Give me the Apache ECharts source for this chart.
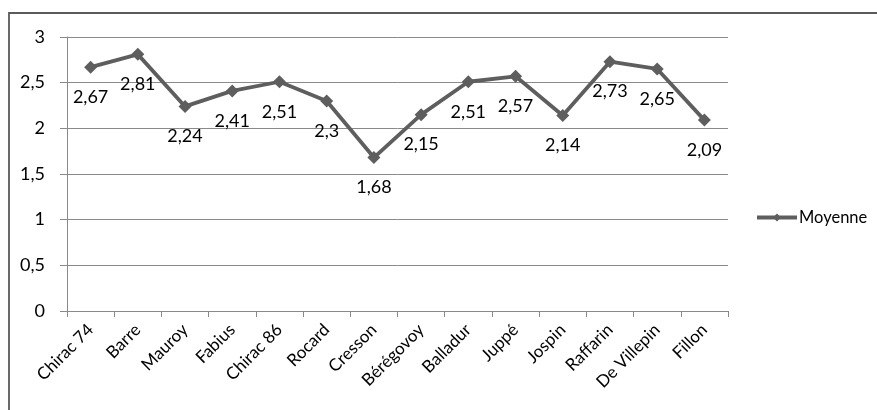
<!DOCTYPE html>
<html>
<head>
<meta charset="utf-8">
<script src="https://cdn.jsdelivr.net/npm/echarts@6/dist/echarts.min.js"></script>
<style>
  html, body { margin: 0; padding: 0; background: #fff; }
  #main { width: 877px; height: 410px; }
</style>
</head>
<body>
<div id="main"></div>
<script>
var categories = ['Chirac 74', 'Barre', 'Mauroy', 'Fabius', 'Chirac 86', 'Rocard', 'Cresson',
  'Bérégovoy', 'Balladur', 'Juppé', 'Jospin', 'Raffarin', 'De Villepin', 'Fillon'];
var moyenne = [2.67, 2.81, 2.24, 2.41, 2.51, 2.3, 1.68, 2.15, 2.51, 2.57, 2.14, 2.73, 2.65, 2.09];
var yTicks = [0, 0.5, 1, 1.5, 2, 2.5, 3];

var font = 'Lato';
var grey = '#5e5e5e';
function comma(v) { return String(v).replace('.', ','); }

var myChart = echarts.init(document.getElementById('main'));
myChart.setOption({
  animation: false,
  textStyle: { fontFamily: font },
  graphic: [{
    type: 'rect',
    shape: { x: 9, y: 13, width: 900, height: 420 },
    style: { fill: 'none', stroke: '#5a5a5a', lineWidth: 1.8 }
  }],
  grid: { left: 67, right: 149, top: 37, bottom: 99 },
  legend: {
    left: 750, top: 204,
    itemWidth: 40, itemHeight: 10, itemGap: 2,
    lineStyle: { width: 4 },
    textStyle: { fontFamily: font, fontSize: 16.5, color: '#000', padding: [0, 0, 0, -3] },
    data: ['Moyenne']
  },
  xAxis: {
    type: 'category',
    data: categories,
    axisLine: { lineStyle: { color: '#8a8a8a', width: 1 } },
    axisTick: { show: true, length: 6, lineStyle: { color: '#8a8a8a' } },
    axisLabel: { rotate: 45, margin: 16, fontSize: 17, color: '#000', interval: 0, fontFamily: font }
  },
  yAxis: {
    type: 'value',
    min: yTicks[0],
    max: yTicks[yTicks.length - 1],
    interval: 0.5,
    axisLine: { show: true, lineStyle: { color: '#8a8a8a', width: 1 } },
    axisTick: { show: true, length: 7, lineStyle: { color: '#8a8a8a' } },
    splitLine: { lineStyle: { color: '#8a8a8a', width: 1 } },
    axisLabel: { margin: 22, fontSize: 18, color: '#000', fontFamily: font, formatter: comma }
  },
  series: [{
    name: 'Moyenne',
    type: 'line',
    data: moyenne,
    symbol: 'diamond',
    symbolSize: 13,
    lineStyle: { color: grey, width: 3.8 },
    itemStyle: { color: grey },
    label: {
      show: true,
      position: 'inside',
      offset: [0, 30],
      fontSize: 18,
      color: '#000',
      fontFamily: font,
      formatter: function (p) { return comma(p.value); }
    }
  }]
});
</script>
</body>
</html>
